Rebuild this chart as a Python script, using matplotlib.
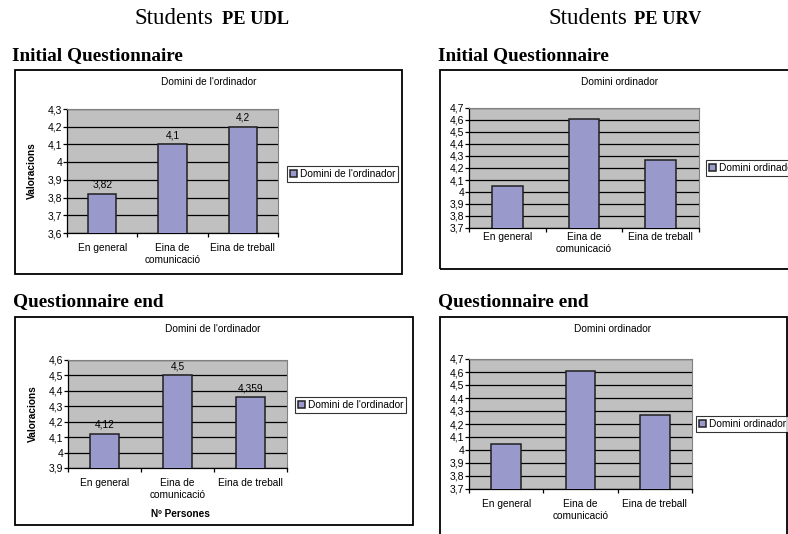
import matplotlib
matplotlib.use('Agg')
import matplotlib.pyplot as plt
from matplotlib.patches import Rectangle
from matplotlib.ticker import MultipleLocator, FuncFormatter, FixedLocator, NullFormatter

# ---------------- data ----------------
categories = ["En general", "Eina de\ncomunicació", "Eina de treball"]
udl_initial = [3.82, 4.1, 4.2]
udl_end = [4.12, 4.5, 4.359]
urv_initial = [4.05, 4.61, 4.27]
urv_end = [4.05, 4.61, 4.27]
udl_initial_labels = ["3,82", "4,1", "4,2"]
udl_end_labels = ["4,12", "4,5", "4,359"]
udl_series = "Domini de l'ordinador"
urv_series = "Domini ordinador"

W, H = 788, 534
fig = plt.figure(figsize=(W / 100, H / 100), dpi=100)
fig.patch.set_facecolor('white')

SANS = ['Liberation Sans', 'DejaVu Sans']
SERIF = ['Liberation Serif', 'DejaVu Serif']
FS = 7.3
BAR = '#9999CC'
GRAY = '#C0C0C0'


def fx(x):
    return x / W


def fy(y):
    return 1 - y / H


def px_axes(l, t, r, b):
    return fig.add_axes([l / W, 1 - b / H, (r - l) / W, (b - t) / H])


def frame(l, t, r, b):
    fig.patches.append(Rectangle((fx(l), fy(b)), (r - l) / W, (b - t) / H,
                                 transform=fig.transFigure, fill=False,
                                 ec='black', lw=1.3, zorder=0))


def fmt(v, p):
    s = f"{v:.1f}"
    if s.endswith('.0'):
        s = s[:-2]
    return s.replace('.', ',')


def chart(box, values, ylim, series, title_xy, legend_xy, xpad,
          labels=None, ylabel_xy=None, xlabel_xy=None):
    ax = px_axes(*box)
    x = list(range(len(values)))
    ax.bar(x, values, width=0.4, color=BAR, edgecolor='#202020', lw=1.1,
           zorder=3, label=series)
    ax.set_facecolor(GRAY)
    ax.set_xlim(-0.5, len(values) - 0.5)
    ax.set_ylim(*ylim)
    ax.yaxis.set_major_locator(MultipleLocator(0.1))
    ax.yaxis.set_major_formatter(FuncFormatter(fmt))
    ax.yaxis.grid(True, color='black', lw=0.9, zorder=1)
    ax.set_axisbelow(True)
    ax.set_xticks(x)
    ax.set_xticklabels(categories, fontsize=FS, family=SANS)
    ax.xaxis.set_minor_locator(FixedLocator([i - 0.5 for i in range(len(values) + 1)]))
    ax.xaxis.set_minor_formatter(NullFormatter())
    ax.tick_params(axis='x', which='major', length=0, pad=xpad)
    ax.tick_params(axis='x', which='minor', length=3, direction='out', width=0.9)
    ax.tick_params(axis='y', length=3, direction='out', width=0.9, pad=0.5,
                   labelsize=7.5)
    for lab in ax.get_yticklabels():
        lab.set_family(SANS)
    for s in ('left', 'bottom'):
        ax.spines[s].set_color('black')
        ax.spines[s].set_linewidth(0.9)
    for s in ('top', 'right'):
        ax.spines[s].set_color('#808080')
        ax.spines[s].set_linewidth(0.8)
    if labels is not None:
        for xi, v, lab in zip(x, values, labels):
            ax.annotate(lab, (xi, v), xytext=(0, 3), textcoords='offset points',
                        ha='center', va='bottom', fontsize=FS, family=SANS)
    fig.text(fx(title_xy[0]), fy(title_xy[1]), series, ha='center', va='center',
             fontsize=FS, family=SANS)
    if ylabel_xy is not None:
        fig.text(fx(ylabel_xy[0]), fy(ylabel_xy[1]), "Valoracions", rotation=90,
                 ha='center', va='center', fontsize=FS, family=SANS,
                 fontweight='bold')
    if xlabel_xy is not None:
        fig.text(fx(xlabel_xy[0]), fy(xlabel_xy[1]), "Nº Persones",
                 ha='center', va='center', fontsize=FS, family=SANS,
                 fontweight='bold')
    h, l = ax.get_legend_handles_labels()
    leg = fig.legend(h, l, loc='center left',
                     bbox_to_anchor=(fx(legend_xy[0]), fy(legend_xy[1])),
                     frameon=True, fancybox=False, borderpad=0.25,
                     handlelength=0.75, handleheight=0.75, handletextpad=0.3,
                     borderaxespad=0, prop={'family': SANS, 'size': FS})
    leg.get_frame().set_edgecolor('black')
    leg.get_frame().set_linewidth(0.8)
    return ax


# ---------------- frames ----------------
frame(15, 70, 402, 274)
frame(440, 70, 820, 269)
frame(15, 317, 413, 525)
frame(440, 317, 787, 560)

# ---------------- headers ----------------
fig.text(fx(135), fy(19), "Students", ha='left', va='center',
         fontsize=16.5, family=SERIF)
fig.text(fx(222), fy(19), "PE UDL", ha='left', va='center',
         fontsize=13.2, family=SERIF, fontweight='bold')
fig.text(fx(548), fy(19), "Students", ha='left', va='center',
         fontsize=16.5, family=SERIF)
fig.text(fx(634), fy(19), "PE URV", ha='left', va='center',
         fontsize=13.2, family=SERIF, fontweight='bold')

fig.text(fx(12), fy(56), "Initial Questionnaire", ha='left', va='center',
         fontsize=13.9, family=SERIF, fontweight='bold')
fig.text(fx(438), fy(56), "Initial Questionnaire", ha='left', va='center',
         fontsize=13.9, family=SERIF, fontweight='bold')
fig.text(fx(13), fy(302), "Questionnaire end", ha='left', va='center',
         fontsize=13.9, family=SERIF, fontweight='bold')
fig.text(fx(438), fy(302), "Questionnaire end", ha='left', va='center',
         fontsize=13.9, family=SERIF, fontweight='bold')

# ---------------- charts ----------------
chart((67, 109, 278, 233), udl_initial, (3.6, 4.3), udl_series,
      (209, 82), (287, 174), 7.2, labels=udl_initial_labels,
      ylabel_xy=(32, 171))
chart((469, 108, 699, 228), urv_initial, (3.7, 4.7), urv_series,
      (620, 82), (706, 168), 3.0)
chart((68, 360, 287, 468), udl_end, (3.9, 4.6), udl_series,
      (213, 329), (295, 405), 7.4, labels=udl_end_labels,
      ylabel_xy=(33, 414), xlabel_xy=(180, 514))
chart((469, 359, 692, 489), urv_end, (3.7, 4.7), urv_series,
      (613, 329), (696, 424), 7.4)

fig.savefig('out.png', dpi=100)
